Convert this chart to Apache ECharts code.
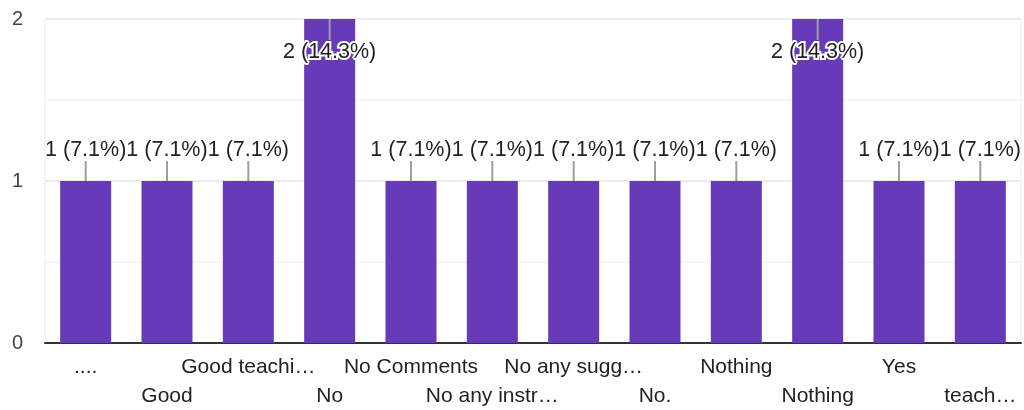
<!DOCTYPE html>
<html>
<head>
<meta charset="utf-8">
<script src="https://cdn.jsdelivr.net/npm/echarts@6/dist/echarts.min.js"></script>
<style>html,body{margin:0;padding:0;background:#fff;}#c{width:1024px;height:410px;}</style>
</head>
<body>
<div id="c"></div>
<script>
const categories = ["....", "Good", "Good teachi\u2026", "No", "No Comments", "No any instr\u2026", "No any sugg\u2026", "No.", "Nothing", "Nothing", "Yes", "teach\u2026"];
const counts = [1, 1, 1, 2, 1, 1, 1, 1, 1, 2, 1, 1];
const yTicks = [0, 1, 2];

const total = counts.reduce((a, b) => a + b, 0);
const FONT = '"Liberation Sans", Arial, sans-serif';

const chart = echarts.init(document.getElementById('c'), null, {renderer: 'canvas'});
chart.setOption({
  animation: false,
  backgroundColor: '#fff',
  grid: {left: 45, right: 3, top: 19, bottom: 67, show: true, borderColor: '#ebebeb', borderWidth: 1,
         outerBoundsMode: 'none', containLabel: false},
  xAxis: {
    type: 'category',
    data: categories,
    axisTick: {show: false},
    axisLine: {lineStyle: {color: '#333', width: 2}},
    axisLabel: {
      interval: 0,
      margin: 10,
      color: '#222',
      fontSize: 21,
      fontFamily: FONT,
      lineHeight: 29,
      formatter: (v, i) => (i % 2 ? '\n' + v : v)
    }
  },
  yAxis: {
    type: 'value',
    min: 0,
    max: 2,
    interval: 0.5,
    axisLine: {show: false},
    axisTick: {show: false},
    splitLine: {lineStyle: {color: ['#ebebeb', '#f5f5f5'], width: 2}},
    axisLabel: {
      margin: 22,
      color: '#444',
      fontSize: 20,
      fontFamily: FONT,
      formatter: v => (yTicks.includes(v) ? String(v) : '')
    }
  },
  series: [
    {
      type: 'bar',
      data: counts,
      barWidth: 51,
      itemStyle: {color: '#673ab7'},
      z: 2
    },
    {
      type: 'custom',
      data: counts.map((v, i) => [i, v]),
      encode: {x: 0, y: 1},
      z: 5,
      renderItem: function (params, api) {
        const idx = api.value(0), v = api.value(1);
        const p = api.coord([idx, v]);
        const top = params.coordSys.y;
        const inside = p[1] - 42 < top;
        const lineY2 = inside ? p[1] + 21 : p[1] - 20;
        const textY = inside ? p[1] + 33 : p[1] - 31;
        const pct = (v / total * 100).toFixed(1);
        return {
          type: 'group',
          children: [
            {type: 'line', shape: {x1: p[0], y1: p[1], x2: p[0], y2: lineY2},
             style: {stroke: '#9e9e9e', lineWidth: 2}},
            {type: 'text', x: p[0], y: textY,
             style: {text: v + ' (' + pct + '%)', fill: '#222', stroke: '#fff', lineWidth: inside ? 4 : 0,
                     font: '21.5px ' + FONT, align: 'center', verticalAlign: 'middle'}}
          ]
        };
      }
    }
  ]
});
</script>
</body>
</html>
